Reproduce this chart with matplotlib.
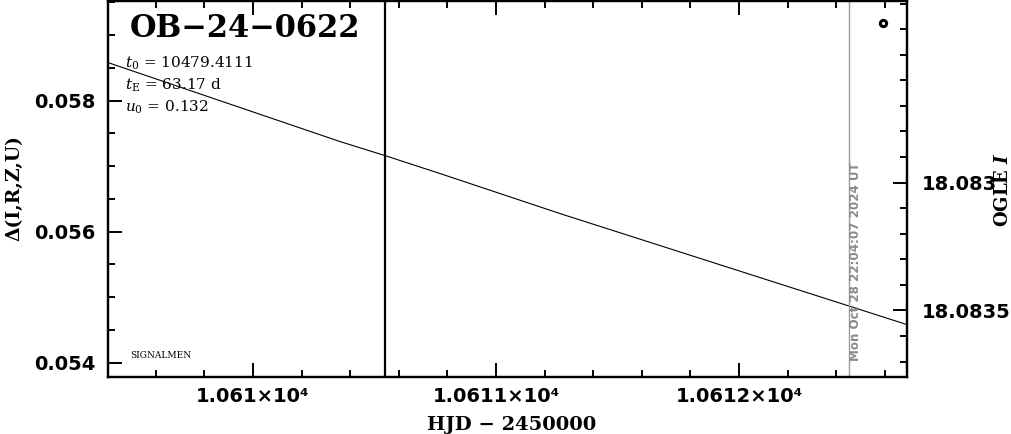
import matplotlib
matplotlib.use("Agg")
import matplotlib.pyplot as plt
from matplotlib.ticker import FixedLocator, FixedFormatter, MultipleLocator

# model curve (HJD-2450000, delta mag)
hjd = [10609.403, 10610.358, 10610.543, 10610.770, 10611.263, 10611.675, 10612.691]
delta = [0.058580, 0.057374, 0.057160, 0.056885, 0.056275, 0.055786, 0.054580]

# single data point near the top right
pt_hjd = [10612.591]
pt_delta = [0.059191]

event = "OB\u221224\u22120622"
params = [r"$t_0$ = 10479.4111", r"$t_{\rm E}$ = 63.17 d", r"$u_0$ = 0.132"]
t_now = 10610.543
t_stamp = 10612.453
stamp = "Mon Oct 28 22:04:07 2024 UT"

x_ticks = [10610, 10611, 10612]
x_labels = ["1.061\u00d710\u2074", "1.0611\u00d710\u2074", "1.0612\u00d710\u2074"]
y_ticks = [0.054, 0.056, 0.058]
y_labels = ["0.054", "0.056", "0.058"]
mag_ticks = [18.083, 18.0835]
mag_labels = ["18.083", "18.0835"]

plt.rcParams["mathtext.fontset"] = "dejavuserif"

W, H = 1011, 434
fig = plt.figure(figsize=(W / 100, H / 100), dpi=100)
ax = fig.add_axes([108 / W, 57 / H, 799 / W, 376 / H])

ax.plot(hjd, delta, color="black", lw=0.8)
ax.plot(pt_hjd, pt_delta, "o", ms=4.5, mfc="white", mec="black", mew=2.2)
ax.axvline(t_now, color="black", lw=1.6)
ax.axvline(t_stamp, color="#9a9a9a", lw=1.0)

ax.set_xlim(10609.403, 10612.691)
ax.set_ylim(0.05378, 0.05952)

ax.xaxis.set_major_locator(FixedLocator(x_ticks))
ax.xaxis.set_major_formatter(FixedFormatter(x_labels))
ax.xaxis.set_minor_locator(MultipleLocator(0.2))
ax.yaxis.set_major_locator(FixedLocator(y_ticks))
ax.yaxis.set_major_formatter(FixedFormatter(y_labels))
ax.yaxis.set_minor_locator(MultipleLocator(0.0005))

ax.tick_params(axis="x", which="both", direction="in", top=True, bottom=True)
ax.tick_params(axis="y", which="both", direction="in", left=True, right=False)
ax.tick_params(which="major", length=10, width=1.4, labelsize=14)
ax.tick_params(axis="x", which="major", pad=7)
ax.tick_params(axis="y", which="major", pad=9)
ax.tick_params(which="minor", length=5, width=1.4)
for lab in ax.get_xticklabels() + ax.get_yticklabels():
    lab.set_fontweight("bold")
for s in ax.spines.values():
    s.set_linewidth(1.6)

ax2 = ax.twinx()
ax2.set_ylim(18.08376, 18.08229)
ax2.yaxis.set_major_locator(FixedLocator(mag_ticks))
ax2.yaxis.set_major_formatter(FixedFormatter(mag_labels))
ax2.yaxis.set_minor_locator(MultipleLocator(0.0001))
ax2.tick_params(which="both", direction="in")
ax2.tick_params(which="major", length=10, width=1.4, labelsize=14, pad=11)
ax2.tick_params(which="minor", length=5, width=1.4)
for lab in ax2.get_yticklabels():
    lab.set_fontweight("bold")
for s in ax2.spines.values():
    s.set_linewidth(1.6)

# labels and annotations
ax.text(0.0275, 0.928, event, transform=ax.transAxes, family="DejaVu Serif",
        fontweight="bold", fontsize=22, va="center", ha="left")
for i, p in enumerate(params):
    ax.text(0.0213, 0.833 - i * 0.0585, p, transform=ax.transAxes,
            family="DejaVu Serif", fontsize=11, va="center", ha="left")
ax.text(0.0275, 0.0585, "SIGNALMEN", transform=ax.transAxes,
        family="DejaVu Serif", fontsize=6.5, va="center", ha="left")
ax.text(10612.48, 0.0426, stamp, transform=ax.get_xaxis_transform(),
        rotation=90, color="#8a8a8a", fontweight="bold", fontsize=8.6,
        ha="center", va="bottom")

fig.text(512 / W, 1 - 425 / H, "HJD \u2212 2450000", family="DejaVu Serif",
         fontweight="bold", fontsize=14, ha="center", va="center")
fig.text(14 / W, 1 - 188 / H, "\u0394(I,R,Z,U)", family="DejaVu Serif",
         fontweight="bold", fontsize=13.5, rotation=90, ha="center", va="center")
fig.text(1003 / W, 1 - 190 / H, r"OGLE $\mathbfit{I}$", family="DejaVu Serif",
         fontweight="bold", fontsize=13, rotation=90, ha="center", va="center")

fig.savefig("out.png", dpi=100)
